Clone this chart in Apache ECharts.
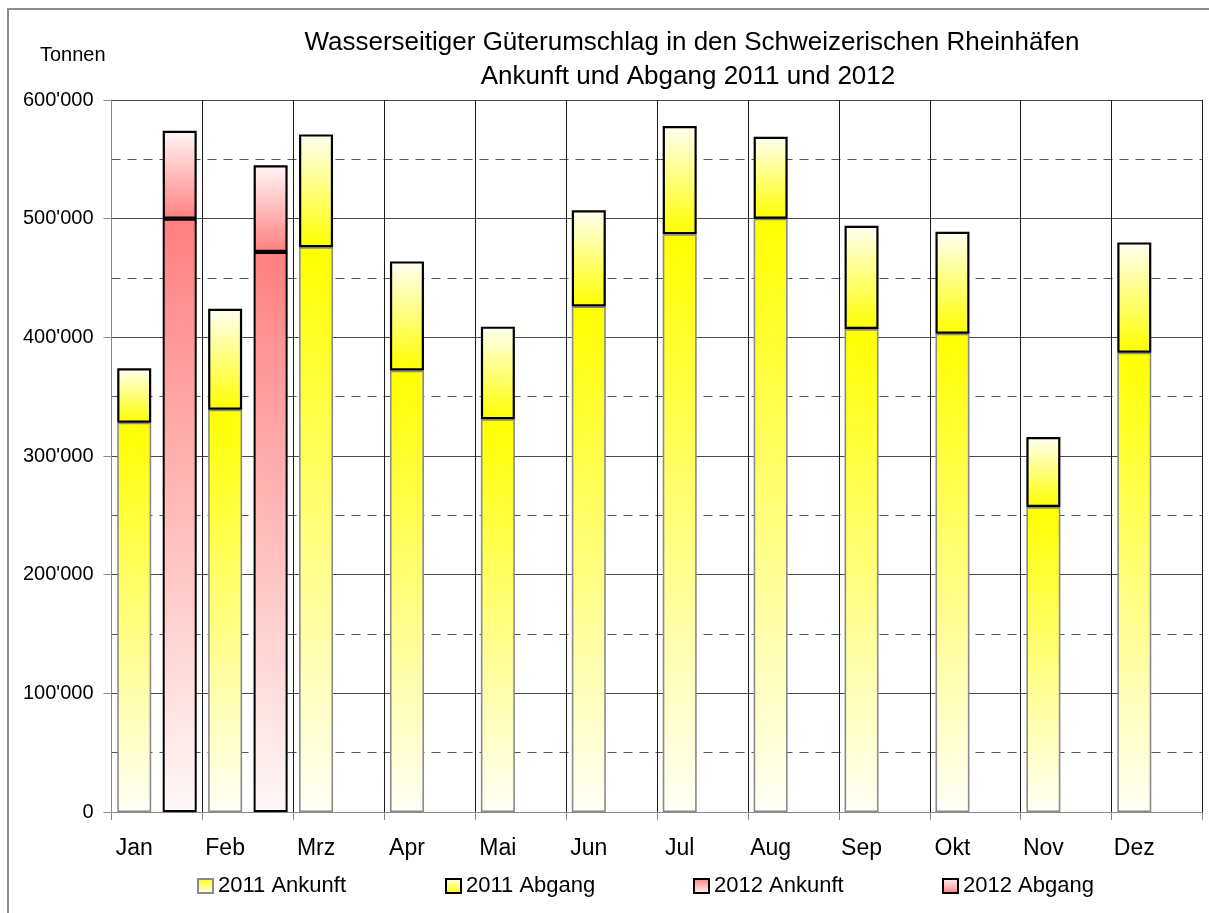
<!DOCTYPE html>
<html>
<head>
<meta charset="utf-8">
<script src="https://cdn.jsdelivr.net/npm/echarts@6/dist/echarts.min.js"></script>
<style>
html,body{margin:0;padding:0;background:#fff;}
#chart{width:1209px;height:913px;}
</style>
</head>
<body>
<div id="chart"></div>
<script>
const months = ['Jan','Feb','Mrz','Apr','Mai','Jun','Jul','Aug','Sep','Okt','Nov','Dez'];
const ankunft2011 = [328000, 339000, 476000, 372000, 331000, 426000, 487000, 500000, 407000, 403000, 257000, 387000];
const abgang2011 = [46000, 85000, 95000, 92000, 78000, 81000, 91000, 69000, 87000, 86000, 59000, 93000];
const ankunft2012 = [500000, 472000, null, null, null, null, null, null, null, null, null, null];
const abgang2012 = [74000, 73000, null, null, null, null, null, null, null, null, null, null];
const seriesNames = ['2011 Ankunft', '2011 Abgang', '2012 Ankunft', '2012 Abgang'];
const titleLines = ['Wasserseitiger Güterumschlag in den Schweizerischen Rheinhäfen', 'Ankunft und Abgang 2011 und 2012'];
const unitLabel = 'Tonnen';

const FONT = '"Liberation Sans", Arial, sans-serif';
function grad(topColor, bottomColor) {
  return { type: 'linear', x: 0, y: 0, x2: 0, y2: 1, colorStops: [
    { offset: 0, color: topColor }, { offset: 1, color: bottomColor } ] };
}
const styles = [
  { color: grad('#FFFF00', '#FFFFF6'), borderColor: '#8a8a8a', borderWidth: 1.6 },
  { color: grad('#FFFFF2', '#FFFF00'), borderColor: '#000000', borderWidth: 2.2 },
  { color: grad('#FF7F7F', '#FFF8F8'), borderColor: '#000000', borderWidth: 2 },
  { color: grad('#FFF6F6', '#FF8080'), borderColor: '#000000', borderWidth: 2.2 }
];
const dataSets = [ankunft2011, abgang2011, ankunft2012, abgang2012];
const stacks = ['y2011', 'y2011', 'y2012', 'y2012'];

function fmt(v) { return String(v).replace(/\B(?=(\d{3})+(?!\d))/g, "'"); }

const legendLefts = [192, 440, 688, 937];

const chart = echarts.init(document.getElementById('chart'), null, { renderer: 'canvas' });
chart.setOption({
  animation: false,
  backgroundColor: '#ffffff',
  textStyle: { fontFamily: FONT },
  graphic: [
    { type: 'rect', silent: true, shape: { x: 8, y: 9, width: 1220, height: 930 },
      style: { fill: 'none', stroke: '#8c8c8c', lineWidth: 2 } },
    { type: 'text', x: 692, y: 43, silent: true,
      style: { text: titleLines[0], font: '26px ' + FONT, fill: '#000', align: 'center', verticalAlign: 'middle', textAlign: 'center', textVerticalAlign: 'middle' } },
    { type: 'text', x: 688, y: 77, silent: true,
      style: { text: titleLines[1], font: '26px ' + FONT, fill: '#000', align: 'center', verticalAlign: 'middle', textAlign: 'center', textVerticalAlign: 'middle' } },
    { type: 'text', x: 40, y: 55, silent: true,
      style: { text: unitLabel, font: '20px ' + FONT, fill: '#000', align: 'left', verticalAlign: 'middle', textAlign: 'left', textVerticalAlign: 'middle' } }
  ],
  legend: seriesNames.map((n, i) => ({
    left: legendLefts[i], top: 870, itemWidth: 15, itemHeight: 14, selectedMode: false,
    textStyle: { fontSize: 22, fontFamily: FONT, color: '#000' },
    data: [{ name: n, icon: 'rect', itemStyle: { borderColor: styles[i].borderColor, borderWidth: 2 } }]
  })),
  grid: { left: 111.5, width: 1091, top: 100, height: 712, containLabel: false },
  xAxis: {
    type: 'category', data: months, boundaryGap: true,
    axisLine: { show: true, lineStyle: { color: '#888', width: 1 } },
    axisTick: { show: true, alignWithLabel: false, length: 8, lineStyle: { color: '#888' } },
    axisLabel: { fontSize: 23, fontFamily: FONT, color: '#000', margin: 25, padding: [0, 45.5, 0, 0] },
    splitLine: { show: true, lineStyle: { color: '#1a1a1a', width: 1 } }
  },
  yAxis: {
    type: 'value', min: 0, max: 600000, interval: 100000,
    axisLine: { show: true, lineStyle: { color: '#888', width: 1 } },
    axisTick: { show: true, length: 8, lineStyle: { color: '#888' } },
    minorTick: { show: false, splitNumber: 2 },
    minorSplitLine: { show: true, lineStyle: { color: '#555', width: 1, type: [9, 7] } },
    axisLabel: { fontSize: 20, fontFamily: FONT, color: '#000', margin: 18, formatter: fmt },
    splitLine: { show: true, lineStyle: { color: '#4a4a4a', width: 1 } }
  },
  series: seriesNames.map((n, i) => ({
    name: n, type: 'bar', stack: stacks[i], data: dataSets[i],
    barWidth: 34, barGap: '33.8%',
    itemStyle: styles[i],
    emphasis: { disabled: true }
  }))
});
</script>
</body>
</html>
